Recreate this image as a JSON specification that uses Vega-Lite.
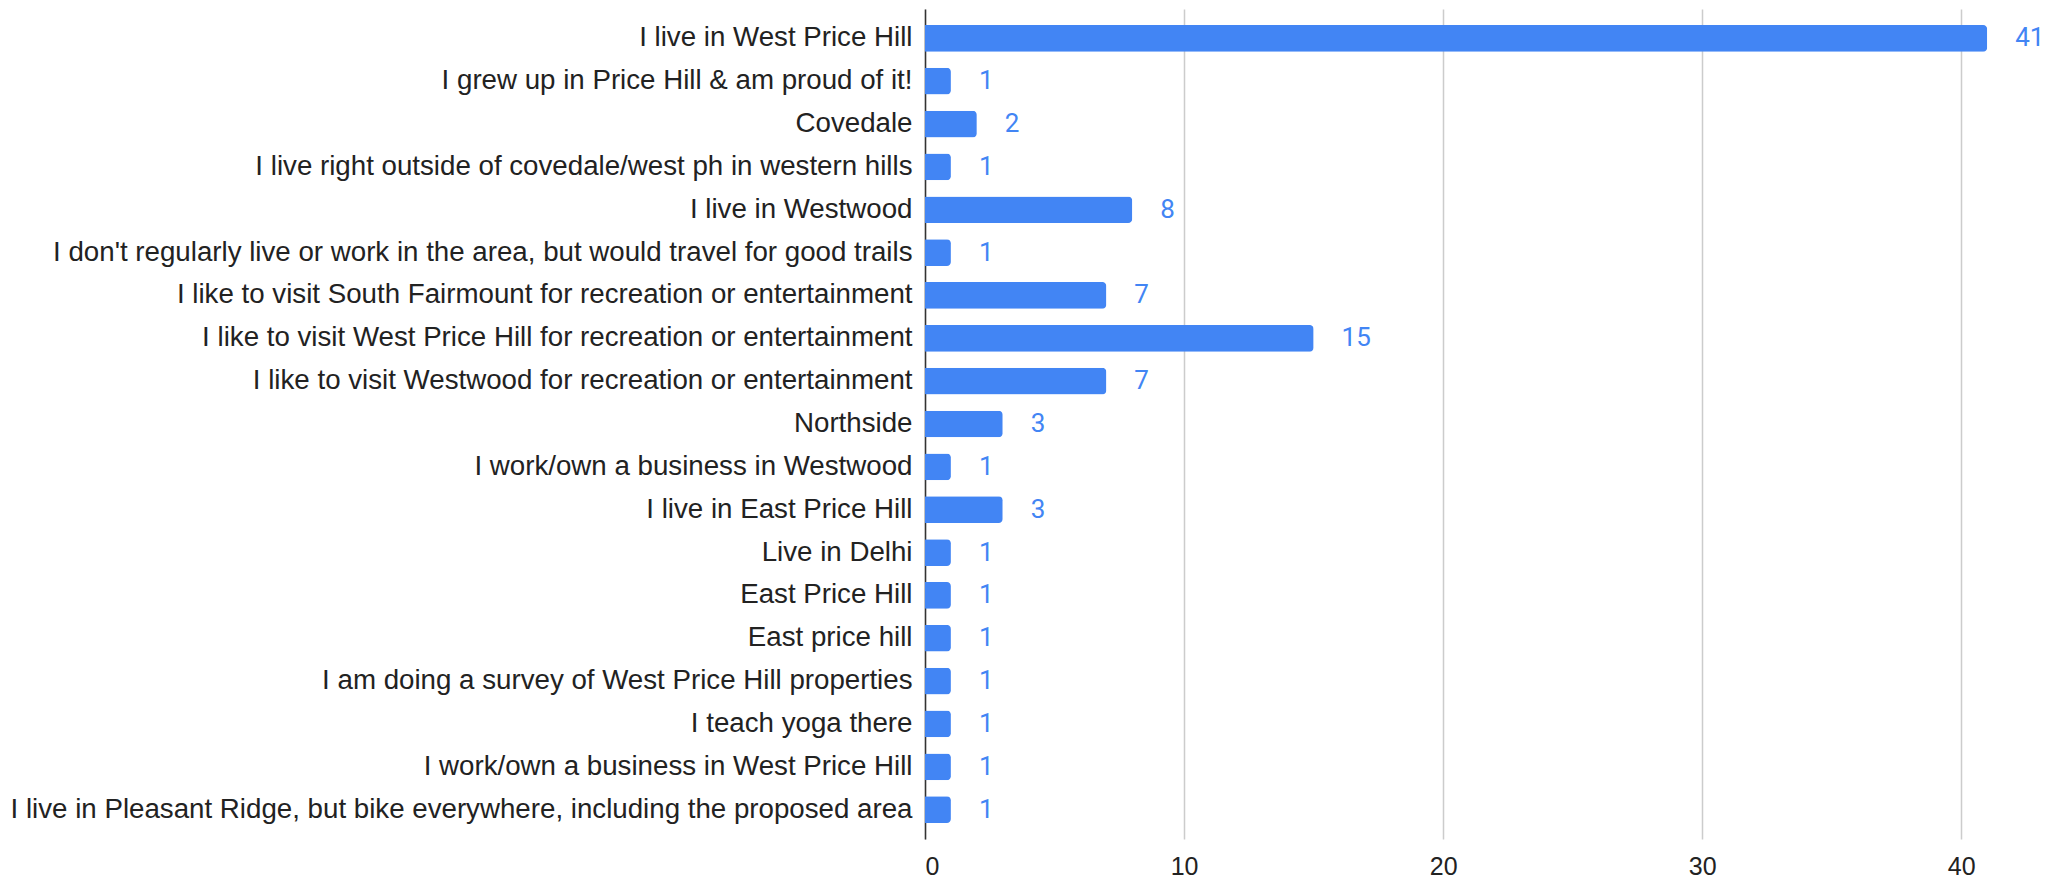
{
  "$schema": "https://vega.github.io/schema/vega-lite/v6.json",
  "autosize": "none",
  "width": 1114,
  "height": 830,
  "padding": {"left": 925, "top": 9, "right": 7, "bottom": 39},
  "background": "white",
  "config": {"view": {"stroke": null}},
  "data": {"values": [
    {"answer": "I live in West Price Hill", "count": 41},
    {"answer": "I grew up in Price Hill & am proud of it!", "count": 1},
    {"answer": "Covedale", "count": 2},
    {"answer": "I live right outside of covedale/west ph in western hills", "count": 1},
    {"answer": "I live in Westwood", "count": 8},
    {"answer": "I don't regularly live or work in the area, but would travel for good trails", "count": 1},
    {"answer": "I like to visit South Fairmount for recreation or entertainment", "count": 7},
    {"answer": "I like to visit West Price Hill for recreation or entertainment", "count": 15},
    {"answer": "I like to visit Westwood for recreation or entertainment", "count": 7},
    {"answer": "Northside", "count": 3},
    {"answer": "I work/own a business in Westwood", "count": 1},
    {"answer": "I live in East Price Hill", "count": 3},
    {"answer": "Live in Delhi", "count": 1},
    {"answer": "East Price Hill", "count": 1},
    {"answer": "East price hill", "count": 1},
    {"answer": "I am doing a survey of West Price Hill properties", "count": 1},
    {"answer": "I teach yoga there", "count": 1},
    {"answer": "I work/own a business in West Price Hill", "count": 1},
    {"answer": "I live in Pleasant Ridge, but bike everywhere, including the proposed area", "count": 1}
  ]},
  "encoding": {
    "y": {
      "field": "answer", "type": "nominal", "sort": null, "title": null,
      "scale": {"paddingInner": 0.377, "paddingOuter": 0.374},
      "axis": {"ticks": false, "domainColor": "#333333", "domainWidth": 1.5, "labelFont": "Liberation Sans", "labelFontSize": 27.7, "labelColor": "#222222", "labelPadding": 13, "labelLimit": 0, "grid": false}
    },
    "x": {
      "field": "count", "type": "quantitative", "title": null,
      "scale": {"domain": [0, 43], "nice": false},
      "axis": {"values": [0, 10, 20, 30, 40], "ticks": false, "domain": false, "gridColor": "#cccccc", "gridWidth": 1.5, "labelFont": "Liberation Sans", "labelFontSize": 25, "labelColor": "#222222", "labelPadding": 15}
    }
  },
  "layer": [
    {"mark": {"type": "bar", "color": "#4285F4", "cornerRadiusEnd": 4}},
    {"mark": {"type": "text", "align": "left", "baseline": "middle", "dx": 28, "font": "Roboto", "fontSize": 26, "color": "#4285F4"},
     "encoding": {"text": {"field": "count", "type": "quantitative"}}}
  ]
}
